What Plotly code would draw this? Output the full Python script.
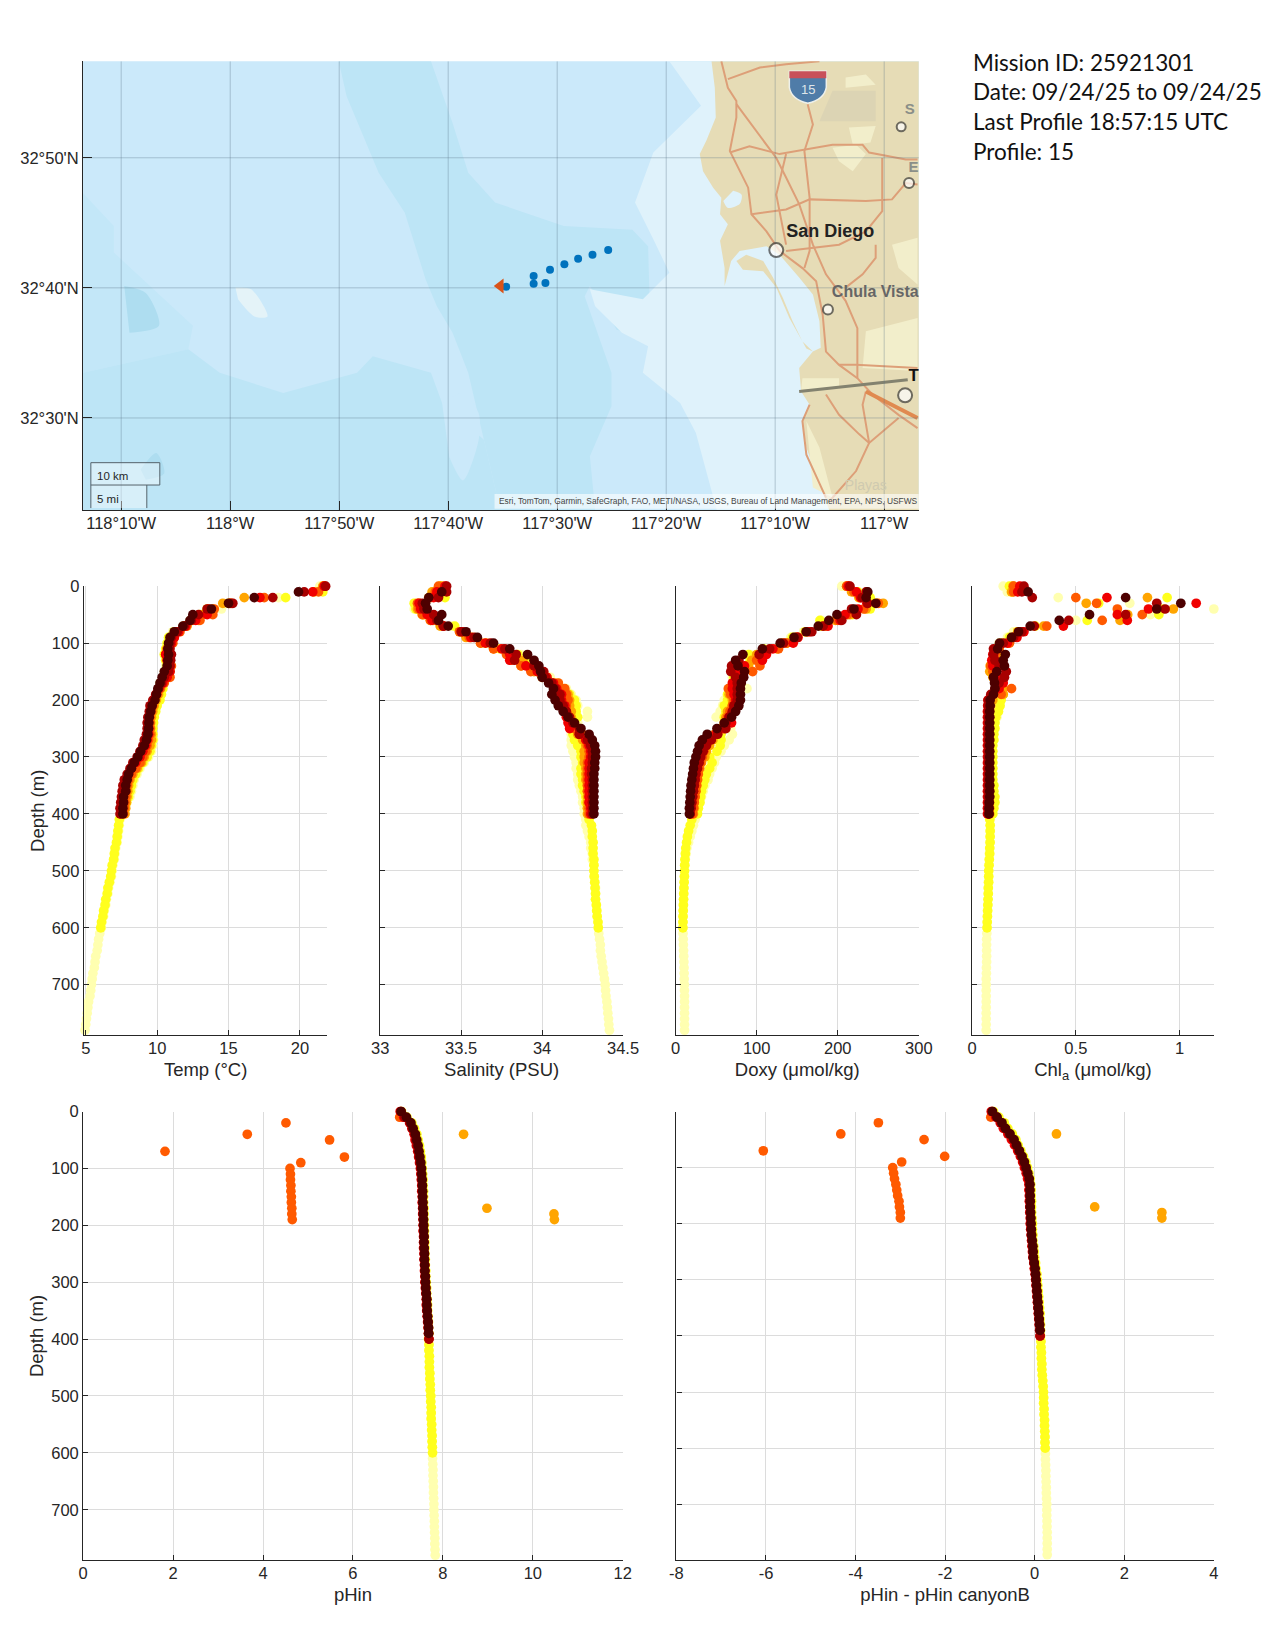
import plotly.graph_objects as go

W = 1275
H = 1650

# where the figure lands in the photographed page, fitted from earlier runs
X_SCALE = 0.9505
X_SHIFT = 15.3
X_SPAN = 1189
Y_SCALE = 0.951
Y_SHIFT = 17
Y_SPAN = 1557.6

DEPTH = [0, 10, 20, 30, 40, 50, 60, 70, 80, 90, 100, 110, 120, 130, 140, 150, 160, 170, 180, 190,
         200, 210, 220, 230, 240, 250, 260, 270, 280, 290, 300, 310, 320, 330, 340, 350, 360, 370, 380, 390,
         400, 410, 420, 430, 440, 450, 460, 470, 480, 490, 500, 510, 520, 530, 540, 550, 560, 570, 580, 590,
         600, 610, 620, 630, 640, 650, 660, 670, 680, 690, 700, 710, 720, 730, 740, 750, 760, 770, 780, 790]

# hot colormap steps, first profile to last
PROFILE_COLORS = ["#ffffb0", "#ffff1e", "#ffa500", "#ff5a00", "#f00000", "#a80000", "#4d0000"]

TEMP_PALE = [21.4, 21.0, 18.5, 15.1, 14.5, 13.0, 12.3, 11.8, 11.1, 10.8, 10.7, 10.6, 10.6, 10.6, 10.6, 10.5, 10.4, 10.2, 10.2, 10.1,
             9.9, 9.8, 9.7, 9.6, 9.6, 9.65, 9.7, 9.75, 9.7, 9.6, 9.4, 9.1, 8.8, 8.6, 8.4, 8.3, 8.2, 8.1, 7.9, 7.7,
             7.5, 7.4, 7.35, 7.3, 7.25, 7.2, 7.1, 7.05, 7.0, 6.9, 6.85, 6.8, 6.7, 6.6, 6.55, 6.45, 6.4, 6.3, 6.25, 6.15,
             6.1, 5.98, 5.9, 5.85, 5.8, 5.7, 5.65, 5.6, 5.5, 5.45, 5.4, 5.35, 5.3, 5.2, 5.15, 5.1, 5.05, 5.0, 4.95, 4.9]
TEMP_YELLOW = [21.7, 21.6, 19.0, 15.0, 13.5, 13.0, 12.5, 11.9, 11.2, 10.8, 10.7, 10.6, 10.5, 10.6, 10.7, 10.6, 10.5, 10.3, 10.4, 10.3,
               10.2, 10.0, 9.9, 9.8, 9.75, 9.7, 9.7, 9.7, 9.6, 9.5, 9.3, 9.0, 8.7, 8.5, 8.3, 8.2, 8.1, 8.0, 7.85, 7.7,
               7.5, 7.35, 7.3, 7.25, 7.2, 7.15, 7.05, 7.0, 6.95, 6.85, 6.8, 6.75, 6.65, 6.55, 6.5, 6.4, 6.35, 6.25, 6.2, 6.1, 6.05]
TEMP_ORANGE = [21.6, 21.0, 16.1, 14.6, 13.9, 13.2, 12.9, 12.1, 11.4, 11.0, 10.9, 10.7, 10.6, 10.7, 10.9, 10.7, 10.6, 10.4, 10.25, 10.1,
               9.95, 9.8, 9.7, 9.6, 9.55, 9.55, 9.6, 9.6, 9.5, 9.3, 9.1, 8.9, 8.6, 8.3, 8.1, 8.0, 7.95, 7.9, 7.85, 7.8, 7.75]
TEMP_ORANGERED = [21.7, 21.3, 17.5, 15.2, 14.0, 13.9, 13.0, 12.05, 11.6, 11.2, 11.1, 10.7, 10.6, 10.8, 11.0, 10.9, 10.9, 10.5, 10.2, 10.0,
                  9.8, 9.7, 9.6, 9.5, 9.5, 9.5, 9.5, 9.4, 9.3, 9.2, 9.0, 8.8, 8.5, 8.2, 8.0, 7.9, 7.85, 7.8, 7.75, 7.7, 7.65]
TEMP_RED = [21.7, 20.9, 17.2, 15.1, 13.6, 13.5, 12.7, 12.0, 11.5, 11.2, 11.0, 10.8, 10.6, 10.7, 10.9, 10.9, 10.7, 10.4, 10.1, 9.95,
            9.75, 9.6, 9.5, 9.4, 9.35, 9.4, 9.4, 9.3, 9.2, 9.0, 8.8, 8.5, 8.2, 8.0, 7.8, 7.7, 7.65, 7.6, 7.55, 7.5, 7.45]
TEMP_DARKRED = [21.8, 20.3, 18.1, 15.3, 13.5, 12.9, 12.4, 11.9, 11.4, 11.0, 10.9, 10.9, 11.0, 10.95, 10.9, 10.8, 10.5, 10.3, 10.1, 9.9,
                9.7, 9.5, 9.45, 9.35, 9.3, 9.3, 9.25, 9.1, 9.0, 8.8, 8.6, 8.3, 8.1, 7.9, 7.7, 7.6, 7.55, 7.5, 7.45, 7.4, 7.4]
TEMP_DARKEST = [None, 19.9, 16.8, 15.0, 13.8, 12.5, 12.3, 11.8, 11.2, 10.9, 10.8, 10.75, 10.8, 10.75, 10.7, 10.5, 10.35, 10.2, 10.05, 9.95,
                9.85, 9.65, 9.55, 9.45, 9.42, 9.4, 9.35, 9.25, 9.1, 8.85, 8.65, 8.4, 8.2, 8.0, 7.9, 7.8, 7.8, 7.65, 7.65, 7.6, 7.6]

SAL_PALE = [33.37, 33.33, 33.31, 33.21, 33.21, 33.27, 33.33, 33.44, 33.50, 33.58, 33.66, 33.76, 33.87, 33.92, 33.94, 33.99, 34.05, 34.10, 34.15, 34.18,
            34.21, 34.22, 34.28, 34.28, 34.22, 34.19, 34.18, 34.18, 34.18, 34.19, 34.2, 34.21, 34.21, 34.22, 34.22, 34.23, 34.24, 34.25, 34.25, 34.26,
            34.26, 34.27, 34.27, 34.28, 34.29, 34.30, 34.30, 34.31, 34.31, 34.32, 34.32, 34.32, 34.325, 34.33, 34.33, 34.33, 34.335, 34.34, 34.34, 34.345,
            34.347, 34.35, 34.355, 34.36, 34.36, 34.365, 34.37, 34.375, 34.38, 34.385, 34.39, 34.392, 34.395, 34.40, 34.403, 34.406, 34.41, 34.412, 34.416, 34.42]
SAL_YELLOW = [33.37, 33.36, 33.40, 33.21, 33.22, 33.26, 33.33, 33.46, 33.50, 33.56, 33.65, 33.74, 33.85, 33.90, 33.92, 33.97, 34.03, 34.08, 34.13, 34.17,
              34.20, 34.21, 34.21, 34.22, 34.20, 34.18, 34.19, 34.20, 34.22, 34.24, 34.24, 34.25, 34.24, 34.24, 34.25, 34.25, 34.26, 34.27, 34.27, 34.28,
              34.29, 34.29, 34.305, 34.31, 34.31, 34.315, 34.315, 34.315, 34.32, 34.32, 34.32, 34.322, 34.325, 34.327, 34.33, 34.33, 34.335, 34.337, 34.34, 34.345, 34.347]
SAL_ORANGE = [33.38, 33.32, 33.30, 33.24, 33.23, 33.27, 33.31, 33.37, 33.49, 33.53, 33.62, 33.70, 33.80, 33.88, 33.87, 33.95, 34.00, 34.06, 34.12, 34.16,
              34.17, 34.17, 34.18, 34.18, 34.19, 34.21, 34.22, 34.25, 34.27, 34.26, 34.26, 34.26, 34.27, 34.27, 34.27, 34.28, 34.28, 34.28, 34.28, 34.28, 34.28]
SAL_ORANGERED = [33.36, 33.34, 33.31, 33.23, 33.24, 33.26, 33.31, 33.39, 33.49, 33.55, 33.62, 33.70, 33.78, 33.81, 33.87, 33.93, 34.02, 34.10, 34.14, 34.15,
                 34.16, 34.15, 34.15, 34.16, 34.18, 34.20, 34.25, 34.27, 34.28, 34.29, 34.29, 34.28, 34.28, 34.28, 34.28, 34.28, 34.28, 34.29, 34.29, 34.29, 34.29]
SAL_RED = [33.40, 33.35, 33.33, 33.24, 33.25, 33.29, 33.32, 33.39, 33.51, 33.56, 33.65, 33.75, 33.80, 33.80, 33.90, 33.97, 34.03, 34.07, 34.09, 34.12,
           34.12, 34.14, 34.14, 34.15, 34.16, 34.17, 34.23, 34.27, 34.29, 34.30, 34.30, 34.29, 34.29, 34.29, 34.29, 34.29, 34.29, 34.29, 34.29, 34.30, 34.30]
SAL_DARKRED = [33.41, 33.41, 33.36, 33.26, 33.27, 33.33, 33.35, 33.39, 33.50, 33.58, 33.68, 33.77, 33.84, 33.83, 33.95, 34.01, 34.02, 34.06, 34.08, 34.11,
               34.11, 34.13, 34.15, 34.17, 34.19, 34.23, 34.23, 34.28, 34.30, 34.31, 34.31, 34.31, 34.305, 34.305, 34.31, 34.31, 34.31, 34.31, 34.31, 34.31, 34.31]
SAL_DARKEST = [None, 33.38, 33.30, 33.28, 33.29, 33.38, 33.36, 33.42, 33.53, 33.60, 33.70, 33.80, 33.91, 33.95, 33.98, 33.99, 34.00, 34.04, 34.07, 34.06,
               34.08, 34.10, 34.13, 34.16, 34.20, 34.24, 34.29, 34.31, 34.325, 34.33, 34.33, 34.325, 34.325, 34.32, 34.32, 34.32, 34.32, 34.32, 34.32, 34.32, 34.32]

DOXY_PALE = [205, 220, 226, 240, 235, 212, 180, 178, 158, 142, 130, 110, 92, 95, 85, 78, 70, 72, 88, 66,
             60, 58, 55, 50, 60, 68, 70, 66, 60, 56, 50, 48, 45, 42, 40, 36, 34, 32, 30, 28,
             26, 24, 22, 20, 18, 16, 14, 13, 12, 11.5, 11, 11, 10.5, 10, 10, 9.8, 9.6, 9.4, 9.2, 9,
             9, 9.2, 9.4, 9.6, 9.8, 10, 10.2, 10.4, 10.5, 10.6, 10.8, 10.9, 11, 11, 11, 11, 11, 11, 11, 11]
DOXY_YELLOW = [212, 225, 240, 248, 240, 218, 178, 180, 160, 144, 132, 108, 90, 92, 88, 75, 72, 72, 68, 64,
               64, 60, 62, 60, 62, 60, 56, 56, 55, 51, 42, 45, 42, 38, 36, 34, 32, 31, 30, 28,
               27, 20, 18, 16, 14.5, 13.5, 12.5, 12, 11.5, 11.2, 11, 10.8, 10.5, 10.3, 10, 9.8, 9.6, 9.4, 9.2, 9.1, 9]
DOXY_ORANGE = [211, 217, 226, 256, 235, 215, 197, 182, 161, 148, 137, 125, 100, 94, 90, 80, 78, 72, 68, 66,
               70, 70, 64, 62, 60, 56, 50, 46, 42, 38, 36, 32, 30, 28, 27, 26, 25, 24, 23, 23, 22]
DOXY_ORANGERED = [211, 220, 228, 250, 232, 212, 200, 185, 163, 150, 137, 127, 105, 100, 104, 95, 76, 72, 65, 68,
                  72, 70, 67, 64, 62, 58, 48, 43, 38, 35, 33, 31, 29, 28, 27, 26, 25, 24, 23, 22, 21]
DOXY_RED = [213, 223, 228, 236, 225, 209, 203, 188, 165, 151, 145, 120, 112, 107, 85, 78, 77, 70, 70, 72,
            74, 72, 70, 66, 69, 60, 50, 42, 35, 32, 30, 28, 26, 25, 24, 23, 22, 21, 20, 19, 18]
DOXY_DARKRED = [215, 235, 230, 237, 217, 223, 205, 182, 168, 150, 133, 116, 103, 78, 69, 68, 74, 76, 76, 76,
                76, 72, 70, 66, 62, 62, 52, 44, 38, 34, 31, 29, 27, 25, 24, 23, 22, 21, 20, 19, 18]
DOXY_DARKEST = [None, 237, 235, 247, 220, 199, 189, 176, 161, 146, 129, 107, 83, 74, 77, 85, 84, 81, 80, 80,
                80, 78, 74, 69, 60, 51, 39, 33, 29, 27, 25, 23, 22, 21, 20, 19, 18.5, 18, 17.5, 17, 17]

CHL_PALE = [.15, .17, .415, .76, 1.165, .86, .5, .3, .2, .17, .13, .12, .11, .1, .09, .1, .11, .13, .13, .14,
            .13, .13, .127, .12, .11, .1, .1, .09, .09, .09, .09, .09, .09, .09, .09, .09, .09, .09, .09, .09,
            .09, .088, .088, .088, .086, .085, .085, .083, .082, .08, .08, .08, .078, .078, .077, .076, .075, .074, .073, .072,
            .072, .071, .07, .07, .07, .07, .07, .069, .069, .068, .068, .068, .068, .068, .068, .068, .068, .068, .068, .068]
CHL_YELLOW = [.18, .19, .94, .61, .92, .9, .555, .305, .22, .18, .14, .12, .11, .1, .09, .09, .11, .12, .14, .15,
              .14, .135, .127, .115, .11, .11, .105, .105, .1, .1, .1, .1, .1, .1, .1, .105, .105, .11, .11, .105,
              .1, .085, .087, .087, .087, .087, .085, .085, .083, .082, .08, .08, .08, .078, .078, .077, .076, .075, .074, .073, .072]
CHL_ORANGE = [.197, .19, .845, .55, .97, .75, .713, .345, .22, .2, .176, .13, .12, .1, .087, .085, .1, .12, .15, .15,
              .1, .09, .085, .085, .085, .085, .085, .085, .085, .085, .085, .085, .085, .085, .085, .085, .085, .085, .085, .085, .085]
CHL_ORANGERED = [.2, .2, .5, .6, .7, .82, .627, .36, .23, .2, .18, .13, .11, .1, .09, .1, .12, .14, .19, .14,
                 .085, .085, .083, .083, .083, .083, .083, .083, .083, .083, .083, .083, .083, .083, .083, .083, .083, .083, .083, .083, .083]
CHL_RED = [.23, .22, .65, 1.08, .85, .70, .748, .44, .25, .216, .17, .12, .10, .095, .10, .12, .13, .15, .13, .10,
           .076, .075, .074, .074, .074, .074, .074, .074, .074, .074, .074, .074, .074, .074, .074, .074, .074, .074, .074, .074, .074]
CHL_DARKRED = [.25, .24, .29, .89, .93, .74, .466, .30, .24, .20, .15, .103, .103, .11, .13, .165, .156, .13, .11, .09,
               .078, .078, .078, .078, .078, .078, .078, .078, .078, .078, .078, .078, .078, .078, .078, .078, .078, .078, .078, .078, .078]
CHL_DARKEST = [None, .27, .74, 1.006, .89, .566, .42, .28, .224, .19, .132, .123, .16, .15, .156, .119, .103, .108, .11, .103,
               .087, .087, .085, .085, .085, .085, .085, .085, .085, .085, .085, .085, .085, .085, .085, .085, .085, .085, .083, .082, .082]

PH_PALE = [7.07, 7.18, 7.3, 7.36, 7.41, 7.44, 7.47, 7.49, 7.51, 7.53, 7.54, 7.55, 7.55, 7.56, 7.56, 7.57, 7.57, 7.57, 7.58, 7.58,
           7.58, 7.59, 7.59, 7.59, 7.6, 7.6, 7.6, 7.61, 7.61, 7.62, 7.62, 7.63, 7.64, 7.65, 7.65, 7.66, 7.67, 7.67, 7.68, 7.68,
           7.68, 7.69, 7.69, 7.7, 7.7, 7.7, 7.71, 7.71, 7.72, 7.72, 7.73, 7.73, 7.74, 7.74, 7.74, 7.75, 7.75, 7.76, 7.76, 7.765,
           7.77, 7.77, 7.775, 7.78, 7.78, 7.785, 7.79, 7.79, 7.795, 7.8, 7.8, 7.805, 7.81, 7.81, 7.815, 7.82, 7.82, 7.825, 7.83, 7.83]
PH_YELLOW = [7.08, 7.2, 7.31, 7.37, 7.42, 7.45, 7.48, 7.5, 7.52, 7.53, 7.54, 7.55, 7.56, 7.56, 7.57, 7.57, 7.57, 7.58, 7.58, 7.58,
             7.59, 7.59, 7.59, 7.6, 7.6, 7.6, 7.61, 7.61, 7.62, 7.62, 7.63, 7.64, 7.64, 7.65, 7.66, 7.66, 7.67, 7.68, 7.68, 7.69,
             7.68, 7.69, 7.69, 7.7, 7.7, 7.7, 7.71, 7.71, 7.72, 7.72, 7.73, 7.73, 7.74, 7.74, 7.74, 7.75, 7.75, 7.76, 7.76, 7.765, 7.77]
PH_ORANGE = [None, None, None, None, 8.46, None, None, None, None, None, None, None, None, None, None, None, None, 8.98, 10.47, 10.48]
PH_ORANGERED = [None, 7.04, 4.51, None, 3.65, 5.48, None, 1.82, 5.81, 4.84, 4.6, 4.61, 4.61, 4.62, 4.62, 4.63, 4.63, 4.64, 4.64, 4.65]
PH_RED = [7.05, 7.13, 7.26, 7.31, 7.36, 7.38, 7.41, 7.44, 7.46, 7.48, 7.5, 7.51, 7.52, 7.53, 7.53, 7.54, 7.54, 7.55, 7.55, 7.56,
          7.56, 7.56, 7.57, 7.57, 7.57, 7.58, 7.58, 7.59, 7.59, 7.6, 7.6, 7.61, 7.62, 7.63, 7.63, 7.64, 7.65, 7.66, 7.67, 7.68, 7.69]
PH_DARKRED = [7.07, 7.15, 7.27, 7.32, 7.37, 7.4, 7.43, 7.45, 7.47, 7.49, 7.51, 7.52, 7.53, 7.54, 7.54, 7.55, 7.55, 7.56, 7.56, 7.56,
              7.57, 7.57, 7.58, 7.58, 7.58, 7.59, 7.59, 7.6, 7.6, 7.61, 7.61, 7.62, 7.63, 7.64, 7.64, 7.65, 7.66, 7.67, 7.68, 7.68, 7.69]
PH_DARKEST = [7.07, 7.19, 7.29, 7.34, 7.39, 7.42, 7.45, 7.47, 7.49, 7.51, 7.525, 7.53, 7.54, 7.545, 7.55, 7.55, 7.555, 7.56, 7.565, 7.57,
              7.57, 7.575, 7.58, 7.58, 7.585, 7.59, 7.59, 7.595, 7.6, 7.61, 7.615, 7.62, 7.63, 7.64, 7.645, 7.65, 7.66, 7.67, 7.68, 7.685]

DPH_PALE = [-0.93, -0.82, -0.7, -0.62, -0.52, -0.44, -0.38, -0.32, -0.26, -0.21, -0.17, -0.14, -0.11, -0.09, -0.09, -0.08, -0.08, -0.08, -0.07, -0.07,
            -0.06, -0.06, -0.05, -0.04, -0.03, -0.02, -0.01, 0.01, 0.02, 0.04, 0.05, 0.06, 0.07, 0.08, 0.09, 0.1, 0.11, 0.12, 0.12, 0.13,
            0.13, 0.14, 0.14, 0.15, 0.15, 0.16, 0.16, 0.17, 0.18, 0.19, 0.197, 0.2, 0.2, 0.21, 0.21, 0.22, 0.22, 0.225, 0.23, 0.23,
            0.235, 0.24, 0.24, 0.245, 0.25, 0.25, 0.255, 0.26, 0.26, 0.265, 0.27, 0.27, 0.27, 0.275, 0.275, 0.28, 0.28, 0.28, 0.28, 0.28]
DPH_YELLOW = [-0.92, -0.8, -0.68, -0.6, -0.5, -0.42, -0.37, -0.31, -0.25, -0.2, -0.16, -0.13, -0.1, -0.09, -0.08, -0.08, -0.07, -0.07, -0.07, -0.06,
              -0.05, -0.05, -0.04, -0.04, -0.02, -0.01, 0.0, 0.02, 0.03, 0.05, 0.06, 0.07, 0.08, 0.09, 0.1, 0.11, 0.12, 0.12, 0.13, 0.13,
              0.13, 0.14, 0.14, 0.15, 0.15, 0.16, 0.16, 0.17, 0.18, 0.19, 0.197, 0.2, 0.2, 0.21, 0.21, 0.22, 0.22, 0.225, 0.23, 0.23, 0.235]
DPH_ORANGE = [None, None, None, None, 0.486, None, None, None, None, None, None, None, None, None, None, None, None, 1.34, 2.84, 2.84]
DPH_ORANGERED = [None, -0.98, -3.49, None, -4.33, -2.47, None, -6.06, -2.01, -2.97, -3.17, -3.15, -3.13, -3.1, -3.08, -3.06, -3.03, -3.02, -3.0, -3.0]
DPH_RED = [-0.97, -0.87, -0.77, -0.7, -0.6, -0.52, -0.45, -0.38, -0.32, -0.27, -0.23, -0.19, -0.16, -0.13, -0.13, -0.12, -0.12, -0.11, -0.11, -0.1,
           -0.1, -0.09, -0.08, -0.07, -0.06, -0.05, -0.04, -0.02, -0.01, 0.01, 0.02, 0.03, 0.04, 0.05, 0.06, 0.07, 0.08, 0.09, 0.1, 0.11, 0.12]
DPH_DARKRED = [-0.95, -0.85, -0.75, -0.67, -0.57, -0.48, -0.42, -0.36, -0.3, -0.25, -0.21, -0.17, -0.13, -0.115, -0.11, -0.11, -0.1, -0.1, -0.1, -0.09,
               -0.09, -0.08, -0.07, -0.06, -0.05, -0.04, -0.03, -0.01, 0.0, 0.02, 0.03, 0.04, 0.05, 0.06, 0.07, 0.08, 0.09, 0.1, 0.11, 0.115, 0.12]
DPH_DARKEST = [-0.943, -0.84, -0.73, -0.65, -0.55, -0.46, -0.4, -0.34, -0.28, -0.23, -0.19, -0.153, -0.12, -0.105, -0.105, -0.1, -0.1, -0.1, -0.09, -0.085,
               -0.08, -0.075, -0.07, -0.055, -0.04, -0.035, -0.03, -0.01, 0.01, 0.02, 0.03, 0.04, 0.05, 0.06, 0.07, 0.08, 0.09, 0.1, 0.11, 0.12]

# map data, lon/lat
LON_TICKS = [-118.1667, -118.0, -117.8333, -117.6667, -117.5, -117.3333, -117.1667, -117.0]
LON_LABELS = ["118°10'W", "118°W", "117°50'W", "117°40'W", "117°30'W", "117°20'W", "117°10'W", "117°W"]
LAT_TICKS = [32.5, 32.6667, 32.8333]
LAT_LABELS = ["32°30'N", "32°40'N", "32°50'N"]

TRACK_LON = [-117.422, -117.446, -117.468, -117.489, -117.511, -117.536, -117.536, -117.518, -117.578]
TRACK_LAT = [32.715, 32.709, 32.704, 32.697, 32.690, 32.682, 32.672, 32.673, 32.668]
LAST_LON = [-117.587]
LAST_LAT = [32.669]

SHALLOW_LON = [-117.3285, -117.280, -117.353, -117.381, -117.353, -117.3285, -117.369, -117.450, -117.442, -117.401, -117.361, -117.369, -117.312, -117.288, -117.256, -116.947, -116.947]
SHALLOW_LAT = [32.957, 32.900, 32.840, 32.776, 32.729, 32.686, 32.652, 32.665, 32.643, 32.609, 32.592, 32.558, 32.519, 32.481, 32.382, 32.382, 32.957]
DEEP_A_LON = [-117.834, -117.693, -117.660, -117.636, -117.595, -117.490, -117.385, -117.361, -117.357, -117.409, -117.450, -117.458, -117.417, -117.417, -117.450, -117.442, -117.587, -117.612, -117.636, -117.660, -117.684, -117.701, -117.733, -117.773, -117.822]
DEEP_A_LAT = [32.957, 32.957, 32.878, 32.814, 32.776, 32.746, 32.741, 32.720, 32.600, 32.613, 32.669, 32.656, 32.558, 32.515, 32.451, 32.382, 32.382, 32.472, 32.558, 32.609, 32.643, 32.677, 32.763, 32.814, 32.912]
DEEP_B_LON = [-118.225, -118.064, -118.016, -117.919, -117.806, -117.782, -117.693, -117.676, -117.612, -117.587, -118.225]
DEEP_B_LAT = [32.558, 32.588, 32.558, 32.532, 32.558, 32.579, 32.558, 32.519, 32.472, 32.382, 32.382]
DEEP_C_LON = [-118.225, -118.178, -118.178, -118.057, -118.064, -118.225]
DEEP_C_LAT = [32.788, 32.746, 32.712, 32.618, 32.588, 32.558]
POCKET_A_LON = [-118.162, -118.129, -118.109, -118.154]
POCKET_A_LAT = [32.669, 32.660, 32.618, 32.609]
POCKET_B_LON = [-118.137, -118.113, -118.101, -118.129]
POCKET_B_LAT = [32.434, 32.455, 32.429, 32.421]
BANK_LON = [-117.992, -117.968, -117.943, -117.963, -117.988]
BANK_LAT = [32.667, 32.665, 32.630, 32.630, 32.652]
RISE_LON = [-117.676, -117.644, -117.62, -117.62, -117.644, -117.665]
RISE_LAT = [32.519, 32.532, 32.506, 32.472, 32.42, 32.45]

LAND_LON = [-117.264, -117.259, -117.2575, -117.272, -117.282, -117.277, -117.2615, -117.249, -117.251, -117.239, -117.251, -117.244, -117.244, -117.234, -117.221, -117.180, -117.160, -117.130, -117.109, -117.099, -117.097, -117.109, -117.130, -117.127, -117.114, -117.125, -117.119, -117.094, -117.084, -116.947, -116.947]
LAND_LAT = [32.957, 32.923, 32.885, 32.855, 32.838, 32.816, 32.795, 32.782, 32.761, 32.748, 32.727, 32.692, 32.669, 32.701, 32.714, 32.720, 32.709, 32.680, 32.658, 32.624, 32.590, 32.585, 32.564, 32.534, 32.517, 32.496, 32.462, 32.406, 32.382, 32.382, 32.957]
CORONADO_LON = [-117.226, -117.211, -117.185, -117.170, -117.155, -117.140, -117.125, -117.109, -117.119, -117.145, -117.165, -117.185, -117.216]
CORONADO_LAT = [32.701, 32.709, 32.701, 32.680, 32.654, 32.624, 32.598, 32.585, 32.589, 32.628, 32.667, 32.688, 32.690]
MISSION_BAY_LON = [-117.231, -117.218, -117.221, -117.239, -117.246]
MISSION_BAY_LAT = [32.791, 32.786, 32.774, 32.769, 32.778]
GREY_LAND_LON = [-117.079, -117.013, -117.013, -117.099]
GREY_LAND_LAT = [32.919, 32.919, 32.880, 32.880]
CREAM_LON = [-117.079, -117.043, -117.028, -117.048, -117.069, None,
             -117.054, -117.013, -117.021, -117.048, None,
             -117.028, -116.949, -116.949, -117.033, None,
             -117.125, -117.069, -117.069, -117.127, None,
             -117.119, -117.099, -117.079, -117.109, None,
             -116.988, -116.949, -116.949, -116.978, None,
             -117.059, -117.028, -117.013, -117.059]
CREAM_LAT = [32.846, 32.850, 32.838, 32.816, 32.829, None,
             32.872, 32.874, 32.853, 32.850, None,
             32.611, 32.628, 32.560, 32.564, None,
             32.551, 32.551, 32.538, 32.536, None,
             32.496, 32.462, 32.398, 32.411, None,
             32.722, 32.731, 32.671, 32.692, None,
             32.936, 32.940, 32.927, 32.923]

ROAD_LON = [-117.249, -117.239, -117.226, -117.226, -117.236, -117.221, -117.208, -117.203, -117.180, -117.160, -117.125, -117.104, -117.094, -117.089, -117.069, -117.041, -117.018, -116.978, -116.949, None,
            -117.226, -117.196, -117.165, -117.150, -117.130, -117.109, -117.089, -117.059, -117.041, -117.041, None,
            -117.117, -117.109, -117.122, -117.114, -117.114, -117.122, None,
            -117.239, -117.190, -117.150, -117.099, None,
            -117.236, -117.206, -117.160, -117.079, -117.033, -117.023, -116.967, -116.949, None,
            -117.203, -117.150, -117.114, -117.028, -116.988, -116.967, -116.949, None,
            -117.150, -117.165, -117.150, None,
            -117.003, -117.003, -117.028, -117.069, -117.150, None,
            -117.013, -117.013, -117.033, -117.059, None,
            -117.114, -117.125, -117.119, -117.089, None,
            -117.089, -117.069, -117.038, -117.023, -116.978, None,
            -117.023, -117.033, -117.028, None,
            -117.069, -117.043, -116.949, None,
            -117.023, -117.043, -117.084]
ROAD_LAT = [32.957, 32.923, 32.906, 32.885, 32.842, 32.816, 32.795, 32.761, 32.739, 32.714, 32.692, 32.675, 32.632, 32.585, 32.568, 32.551, 32.530, 32.504, 32.487, None,
            32.902, 32.868, 32.833, 32.808, 32.774, 32.722, 32.684, 32.650, 32.615, 32.551, None,
            32.902, 32.876, 32.842, 32.782, 32.714, 32.692, None,
            32.934, 32.949, 32.953, 32.957, None,
            32.840, 32.848, 32.838, 32.850, 32.850, 32.840, 32.831, 32.831, None,
            32.761, 32.767, 32.780, 32.778, 32.780, 32.801, 32.799, None,
            32.838, 32.786, 32.722, None,
            32.833, 32.765, 32.739, 32.722, 32.714, None,
            32.722, 32.705, 32.684, 32.667, None,
            32.517, 32.496, 32.453, 32.398, None,
            32.530, 32.504, 32.479, 32.468, 32.500, None,
            32.468, 32.517, 32.534, None,
            32.568, 32.568, 32.564, None,
            32.468, 32.432, 32.393]
HIGHWAY_LON = [-117.028, -116.949]
HIGHWAY_LAT = [32.534, 32.500]
BORDER_LON = [-117.130, -116.964]
BORDER_LAT = [32.534, 32.549]

CITY_NAMES = ["<b>San Diego</b>", "<b>Chula Vista</b>", "<b>S</b>", "<b>E</b>", "<b>T</b>", "Playas"]
CITY_NAME_LON = [-117.0825, -117.080, -116.961, -116.955, -116.955, -117.028]
CITY_NAME_LAT = [32.738, 32.660, 32.894, 32.820, 32.553, 32.412]
CITY_NAME_COLORS = ["#222222", "#666666", "#8a8f88", "#8a8f88", "#111111", "#cfcab0"]
CITY_NAME_SIZES = [18, 16, 15, 15, 17, 14]
CITY_LON = [-117.165, -117.086, -116.974, -116.962, -116.968]
CITY_LAT = [32.715, 32.639, 32.873, 32.801, 32.529]
CITY_SIZES = [14, 10, 9, 10, 14]

INFO_LINES = ["Mission ID: 25921301", "Date: 09/24/25 to 09/24/25", "Last Profile 18:57:15 UTC", "Profile: 15"]

SANS = "Liberation Sans"
TEXT_COLOR = "#262626"
GRID = "#dcdcdc"


def px_x(x):
    return (X_SCALE * x - X_SHIFT) / X_SPAN


def px_y(y):
    return 1 - (Y_SCALE * y - Y_SHIFT) / Y_SPAN


fig = go.Figure()


def add_area(lon, lat, color, smooth=False):
    line = dict(width=0)
    if smooth:
        line = dict(width=0, shape="spline", smoothing=0.8)
    fig.add_trace(go.Scatter(x=lon, y=lat, mode="lines", fill="toself", fillcolor=color,
                             line=line, hoverinfo="skip", showlegend=False))


def add_line(lon, lat, color, width):
    fig.add_trace(go.Scatter(x=lon, y=lat, mode="lines", line=dict(color=color, width=width),
                             hoverinfo="skip", showlegend=False))


add_area(DEEP_C_LON, DEEP_C_LAT, "#c3e7f8")
add_area(DEEP_A_LON, DEEP_A_LAT, "#bde5f6")
add_area(DEEP_B_LON, DEEP_B_LAT, "#bde5f6")
add_area(RISE_LON, RISE_LAT, "#cbe9fa", smooth=True)
add_area(POCKET_A_LON, POCKET_A_LAT, "#aeddf0", smooth=True)
add_area(POCKET_B_LON, POCKET_B_LAT, "#aeddf0", smooth=True)
add_area(BANK_LON, BANK_LAT, "#e4f3f8", smooth=True)
add_area(SHALLOW_LON, SHALLOW_LAT, "#dff2fb")
add_area(LAND_LON, LAND_LAT, "#e6dcb6")
add_area(CORONADO_LON, CORONADO_LAT, "#e6dcb6")
add_area(MISSION_BAY_LON, MISSION_BAY_LAT, "#dff2fb", smooth=True)
add_area(GREY_LAND_LON, GREY_LAND_LAT, "#dcd4b4")
add_area(CREAM_LON, CREAM_LAT, "#f2eecb")
add_line(ROAD_LON, ROAD_LAT, "#dd9f78", 2)
add_line(HIGHWAY_LON, HIGHWAY_LAT, "#e08a50", 4)
add_line(BORDER_LON, BORDER_LAT, "#83826f", 3)

# grid has to sit on top of the basemap areas
grid_x = []
grid_y = []
for v in LON_TICKS:
    grid_x += [v, v, None]
    grid_y += [32.382, 32.957, None]
for v in LAT_TICKS:
    grid_x += [-118.225, -116.947, None]
    grid_y += [v, v, None]
add_line(grid_x, grid_y, "rgba(90,115,135,0.45)", 0.8)

fig.add_trace(go.Scatter(x=CITY_LON, y=CITY_LAT, mode="markers", hoverinfo="skip", showlegend=False,
                         marker=dict(size=CITY_SIZES, color="white", line=dict(color="#3a3a3a", width=2))))
fig.add_trace(go.Scatter(x=CITY_NAME_LON, y=CITY_NAME_LAT, mode="text", text=CITY_NAMES, hoverinfo="skip", showlegend=False,
                         textposition=["middle center", "middle right", "middle center", "middle center", "middle center", "middle center"],
                         textfont=dict(family=SANS, size=CITY_NAME_SIZES, color=CITY_NAME_COLORS)))
fig.add_trace(go.Scatter(x=TRACK_LON, y=TRACK_LAT, mode="markers", marker=dict(size=8, color="#0072bd"),
                         hoverinfo="skip", showlegend=False))
fig.add_trace(go.Scatter(x=LAST_LON, y=LAST_LAT, mode="markers", hoverinfo="skip", showlegend=False,
                         marker=dict(size=13, symbol="triangle-left", color="#d95319")))

# profile panels: x range, ticks, label, left/right/top/bottom in page px, y limit, series
PANELS = [
    dict(series=[TEMP_PALE, TEMP_YELLOW, TEMP_ORANGE, TEMP_ORANGERED, TEMP_RED, TEMP_DARKRED, TEMP_DARKEST],
         xr=[4.86, 21.93], ticks=[5, 10, 15, 20], labels=["5", "10", "15", "20"],
         title="Temp (°C)", box=(82.9, 326.8, 586, 1034.3), ymax=789, ylabels=True),
    dict(series=[SAL_PALE, SAL_YELLOW, SAL_ORANGE, SAL_ORANGERED, SAL_RED, SAL_DARKRED, SAL_DARKEST],
         xr=[33, 34.5], ticks=[33, 33.5, 34, 34.5], labels=["33", "33.5", "34", "34.5"],
         title="Salinity (PSU)", box=(379.6, 622.6, 586, 1034.3), ymax=789, ylabels=False),
    dict(series=[DOXY_PALE, DOXY_YELLOW, DOXY_ORANGE, DOXY_ORANGERED, DOXY_RED, DOXY_DARKRED, DOXY_DARKEST],
         xr=[0, 300], ticks=[0, 100, 200, 300], labels=["0", "100", "200", "300"],
         title="Doxy (μmol/kg)", box=(675.2, 918.6, 586, 1034.3), ymax=789, ylabels=False),
    dict(series=[CHL_PALE, CHL_YELLOW, CHL_ORANGE, CHL_ORANGERED, CHL_RED, CHL_DARKRED, CHL_DARKEST],
         xr=[0, 1.165], ticks=[0, 0.5, 1], labels=["0", "0.5", "1"],
         title="Chl<sub>a</sub> (μmol/kg)", box=(971.9, 1213.8, 586, 1034.3), ymax=789, ylabels=False),
    dict(series=[PH_PALE, PH_YELLOW, PH_ORANGE, PH_ORANGERED, PH_RED, PH_DARKRED, PH_DARKEST],
         xr=[0, 12], ticks=[0, 2, 4, 6, 8, 10, 12], labels=["0", "2", "4", "6", "8", "10", "12"],
         title="pHin", box=(82.3, 622.3, 1110.3, 1558.3), ymax=789, ylabels=True),
    dict(series=[DPH_PALE, DPH_YELLOW, DPH_ORANGE, DPH_ORANGERED, DPH_RED, DPH_DARKRED, DPH_DARKEST],
         xr=[-8, 4], ticks=[-8, -6, -4, -2, 0, 2, 4], labels=["-8", "-6", "-4", "-2", "0", "2", "4"],
         title="pHin - pHin canyonB", box=(676, 1213.8, 1110.3, 1558.3), ymax=800, ylabels=False),
]

layout_axes = {}
layout_axes["xaxis"] = dict(domain=[px_x(82.2), px_x(918.6)], range=[-118.225, -116.947], anchor="y",
                            tickvals=LON_TICKS, ticktext=LON_LABELS, ticks="inside", ticklen=9, tickcolor=TEXT_COLOR,
                            showgrid=False, showline=True, linecolor=TEXT_COLOR, linewidth=1.2, zeroline=False,
                            ticklabelstandoff=-2, tickfont=dict(family=SANS, size=16.5, color=TEXT_COLOR))
layout_axes["yaxis"] = dict(domain=[px_y(510), px_y(62)], range=[32.382, 32.957], anchor="x",
                            tickvals=LAT_TICKS, ticktext=LAT_LABELS, ticks="inside", ticklen=9, tickcolor=TEXT_COLOR,
                            showgrid=False, showline=True, linecolor=TEXT_COLOR, linewidth=1.2, zeroline=False,
                            tickfont=dict(family=SANS, size=16.5, color=TEXT_COLOR))

for i, p in enumerate(PANELS):
    n = i + 2
    xname = "x%d" % n
    yname = "y%d" % n
    for series, color in zip(p["series"], PROFILE_COLORS):
        fig.add_trace(go.Scatter(x=series, y=DEPTH[:len(series)], xaxis=xname, yaxis=yname, mode="markers",
                                 marker=dict(size=9.7, color=color), cliponaxis=False,
                                 hoverinfo="skip", showlegend=False))
    left, right, top, bottom = p["box"]
    layout_axes["xaxis%d" % n] = dict(domain=[px_x(left), px_x(right)], range=p["xr"], anchor=yname,
                                      tickvals=p["ticks"], ticktext=p["labels"], ticks="inside", ticklen=5,
                                      tickcolor=TEXT_COLOR, showgrid=True, gridcolor=GRID, gridwidth=1,
                                      showline=True, linecolor=TEXT_COLOR, linewidth=1.2, zeroline=False,
                                      ticklabelstandoff=-2, tickfont=dict(family=SANS, size=16.5, color=TEXT_COLOR),
                                      title=dict(text=p["title"], standoff=6,
                                                 font=dict(family=SANS, size=18.5, color=TEXT_COLOR)))
    yaxis = dict(domain=[px_y(bottom), px_y(top)], range=[p["ymax"], 0], anchor=xname,
                 tickvals=[0, 100, 200, 300, 400, 500, 600, 700], ticks="inside", ticklen=5,
                 tickcolor=TEXT_COLOR, showgrid=True, gridcolor=GRID, gridwidth=1,
                 showline=True, linecolor=TEXT_COLOR, linewidth=1.2, zeroline=False,
                 showticklabels=p["ylabels"], tickfont=dict(family=SANS, size=16.5, color=TEXT_COLOR))
    if p["ylabels"]:
        yaxis["title"] = dict(text="Depth (m)", standoff=2, font=dict(family=SANS, size=18.5, color=TEXT_COLOR))
    layout_axes["yaxis%d" % n] = yaxis

shapes = [
    # ocean base under the map
    dict(type="rect", xref="x domain", yref="y domain", x0=0, x1=1, y0=0, y1=1, fillcolor="#cbe9fa",
         line=dict(width=0), layer="below"),
    # attribution strip
    dict(type="rect", xref="paper", yref="paper", x0=px_x(494), x1=px_x(918.6), y0=px_y(508.6), y1=px_y(494),
         fillcolor="rgba(255,255,255,0.6)", line=dict(width=0)),
    # scale bar
    dict(type="rect", xref="paper", yref="paper", x0=px_x(90), x1=px_x(159), y0=px_y(485), y1=px_y(462.7),
         fillcolor="rgba(255,255,255,0.4)", line=dict(width=0)),
    dict(type="rect", xref="paper", yref="paper", x0=px_x(90), x1=px_x(146), y0=px_y(508), y1=px_y(485),
         fillcolor="rgba(255,255,255,0.4)", line=dict(width=0)),
    dict(type="path", xref="paper", yref="paper", line=dict(color="#55636b", width=1),
         path="M %f %f L %f %f L %f %f L %f %f M %f %f L %f %f M %f %f L %f %f" % (
             px_x(90), px_y(508), px_x(90), px_y(462.7), px_x(159), px_y(462.7), px_x(159), px_y(485),
             px_x(90), px_y(485), px_x(159), px_y(485), px_x(146), px_y(485), px_x(146), px_y(508))),
    # I-15 shield
    dict(type="path", xref="paper", yref="paper", fillcolor="#4f7ca8", line=dict(color="#eef0ea", width=1.5),
         path="M %f %f L %f %f L %f %f Q %f %f %f %f Q %f %f %f %f Z" % (
             px_x(789), px_y(72), px_x(826), px_y(72), px_x(826), px_y(88),
             px_x(824), px_y(100), px_x(807.5), px_y(104),
             px_x(791), px_y(100), px_x(789), px_y(88))),
    dict(type="rect", xref="paper", yref="paper", x0=px_x(789), x1=px_x(826), y0=px_y(79), y1=px_y(72),
         fillcolor="#c8505a", line=dict(width=0)),
]

annotations = [
    dict(text="10 km", xref="paper", yref="paper", x=px_x(94), y=px_y(476), xanchor="left", yanchor="middle",
         showarrow=False, font=dict(family=SANS, size=11.5, color=TEXT_COLOR)),
    dict(text="5 mi", xref="paper", yref="paper", x=px_x(94), y=px_y(499), xanchor="left", yanchor="middle",
         showarrow=False, font=dict(family=SANS, size=11.5, color=TEXT_COLOR)),
    dict(text="Esri, TomTom, Garmin, SafeGraph, FAO, METI/NASA, USGS, Bureau of Land Management, EPA, NPS, USFWS",
         xref="paper", yref="paper", x=px_x(496), y=px_y(501), xanchor="left", yanchor="middle",
         showarrow=False, font=dict(family=SANS, size=8.4, color="#444444")),
    dict(text="15", xref="paper", yref="paper", x=px_x(807.5), y=px_y(90), xanchor="center", yanchor="middle",
         showarrow=False, font=dict(family=SANS, size=13, color="#dfe6ea")),
]
for line, y in zip(INFO_LINES, [63, 92.5, 122, 152.5]):
    annotations.append(dict(text=line, xref="paper", yref="paper", x=px_x(971), y=px_y(y), xanchor="left",
                            yanchor="middle", showarrow=False,
                            font=dict(family="Comic Sans MS, Lato", size=22.5, color="#111111")))

fig.update_layout(width=W, height=H, margin=dict(l=0, r=0, t=0, b=0), autosize=False,
                  paper_bgcolor="white", plot_bgcolor="white", showlegend=False,
                  modebar=dict(bgcolor="rgba(0,0,0,0)", color="rgba(0,0,0,0)", activecolor="rgba(0,0,0,0)"),
                  shapes=shapes, annotations=annotations, **layout_axes)

fig.write_html("out.html", config={"displayModeBar": False})
